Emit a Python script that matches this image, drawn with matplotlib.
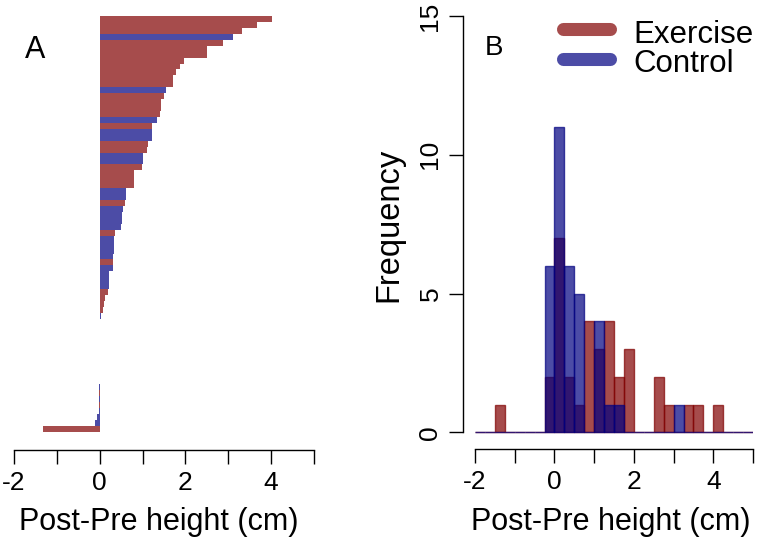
import matplotlib
matplotlib.use("Agg")
import matplotlib.pyplot as plt
from matplotlib.lines import Line2D
import numpy as np

plt.rcParams['font.family'] = ['Liberation Sans', 'DejaVu Sans']

# ---------------- data ----------------
# Panel A: individual changes, sorted from top (largest) to bottom (smallest)
change_sorted = [4.03, 3.68, 3.32, 3.10, 2.88, 2.51, 2.51, 1.97, 1.88, 1.79,
                 1.72, 1.70, 1.54, 1.49, 1.43, 1.42, 1.40, 1.33, 1.23, 1.22,
                 1.21, 1.13, 1.11, 1.02, 1.01, 0.99, 0.81, 0.80, 0.79, 0.62,
                 0.61, 0.59, 0.54, 0.53, 0.52, 0.49, 0.36, 0.34, 0.33, 0.33,
                 0.32, 0.31, 0.31, 0.22, 0.21, 0.21, 0.19, 0.12, 0.09, 0.07,
                 0.02, 0.01, 0.0, 0.0, 0.0, 0.0, 0.0, 0.0, 0.0, 0.0,
                 0.0, 0.0, -0.01, -0.01, -0.01, -0.01, -0.02, -0.07, -0.11, -1.32]
group_sorted = ['E', 'E', 'E', 'C', 'E', 'E', 'E', 'E', 'E', 'E',
                'E', 'E', 'C', 'E', 'E', 'E', 'E', 'C', 'E', 'C',
                'C', 'E', 'E', 'C', 'C', 'E', 'E', 'E', 'E', 'C',
                'C', 'E', 'C', 'C', 'C', 'C', 'E', 'C', 'C', 'C',
                'C', 'E', 'C', 'C', 'C', 'C', 'E', 'E', 'E', 'E',
                'C', 'E', 'C', 'C', 'E', 'C', 'C', 'E', 'C', 'C',
                'C', 'E', 'C', 'E', 'C', 'E', 'C', 'C', 'C', 'E']

# Panel B: histogram counts, bins of width 0.25 from -2 to 5
bin_start = -2.0
bin_width = 0.25
exercise_counts = [0, 0, 1, 0, 0, 0, 0, 2, 7, 2, 1, 4, 3, 4, 2, 3, 0, 0, 2, 1,
                   0, 1, 1, 0, 1, 0, 0, 0]
control_counts = [0, 0, 0, 0, 0, 0, 0, 6, 11, 6, 5, 0, 4, 1, 1, 0, 0, 0, 0, 0,
                  1, 0, 0, 0, 0, 0, 0, 0]

x_ticks = [-2, -1, 0, 1, 2, 3, 4, 5]
x_ticklabels = ['-2', '', '0', '', '2', '', '4', '']
y_ticks = [0, 5, 10, 15]
legend_labels = ['Exercise', 'Control']

red = (0.5, 0.0, 0.0, 0.7)
blue = (0.0, 0.0, 0.5, 0.7)
colors = {'E': red, 'C': blue}

# ---------------- figure ----------------
W, H = 758, 540
fig = plt.figure(figsize=(W / 100, H / 100), dpi=100)


def fx(x):
    return x / W


def fy(y):
    return 1 - y / H


TICK_LEN = 10.0
TICK_FS = 19
LAB_FS = 22

# ---- Panel A ----
axA = fig.add_axes([fx(14), fy(450), fx(314) - fx(14), fy(16) - fy(450)])
n = len(change_sorted)
vals = change_sorted[::-1]
grps = group_sorted[::-1]
axA.barh(np.arange(n), vals, height=1.0, align='edge',
         color=[colors[g] for g in grps], linewidth=0)
axA.set_xlim(-2, 5)
axA.set_ylim(-(450 - 431.7) / (415.7 / n), n)
for s in ['top', 'right', 'left']:
    axA.spines[s].set_visible(False)
axA.spines['bottom'].set_bounds(-2, 5)
axA.spines['bottom'].set_linewidth(1.0)
axA.set_yticks([])
axA.set_xticks(x_ticks)
axA.set_xticklabels(x_ticklabels)
axA.tick_params(axis='x', length=TICK_LEN, width=1.0, labelsize=TICK_FS, pad=5)
axA.patch.set_alpha(0)

# ---- Panel B ----
px_per_x = (753 - 475) / 7.0
px_per_y = (432.3 - 16) / 15.0
axB = fig.add_axes([fx(463.3), fy(449.3), fx(753) - fx(463.3), fy(16) - fy(449.3)])
lefts = bin_start + bin_width * np.arange(len(exercise_counts))
axB.bar(lefts, exercise_counts, width=bin_width, align='edge',
        color=red, edgecolor=red, linewidth=1.0)
axB.bar(lefts, control_counts, width=bin_width, align='edge',
        color=blue, edgecolor=blue, linewidth=1.0)
axB.set_xlim(-2 - (475 - 463.3) / px_per_x, 5)
axB.set_ylim(-(449.3 - 432.3) / px_per_y, 15)
for s in ['top', 'right']:
    axB.spines[s].set_visible(False)
axB.spines['bottom'].set_bounds(-2, 5)
axB.spines['left'].set_bounds(0, 15)
axB.spines['bottom'].set_linewidth(1.0)
axB.spines['left'].set_linewidth(1.0)
axB.set_xticks(x_ticks)
axB.set_xticklabels(x_ticklabels)
axB.set_yticks(y_ticks)
axB.set_yticklabels([str(v) for v in y_ticks], rotation=90, va='center')
axB.tick_params(axis='both', length=TICK_LEN, width=1.0, labelsize=TICK_FS, pad=5)
axB.patch.set_alpha(0)

# ---- texts ----
fig.text(fx(159), fy(522), 'Post-Pre height (cm)', fontsize=LAB_FS,
         ha='center', va='center')
fig.text(fx(611), fy(522), 'Post-Pre height (cm)', fontsize=LAB_FS,
         ha='center', va='center')
fig.text(fx(389), fy(225), 'Frequency', fontsize=23.5, rotation=90,
         ha='center', va='center')
fig.text(fx(25), fy(58), 'A', fontsize=22, ha='left', va='baseline')
fig.text(fx(485), fy(55), 'B', fontsize=20, ha='left', va='baseline')

# ---- legend ----
for lab, col, yc, yb in [(legend_labels[0], red, 29.3, 43),
                         (legend_labels[1], blue, 59.3, 72)]:
    fig.add_artist(Line2D([fx(563), fx(610)], [fy(yc), fy(yc)], lw=9.4,
                          color=col, solid_capstyle='round'))
    fig.text(fx(633), fy(yb), lab, fontsize=22.5, ha='left', va='baseline')

fig.savefig('out.png', dpi=100)
